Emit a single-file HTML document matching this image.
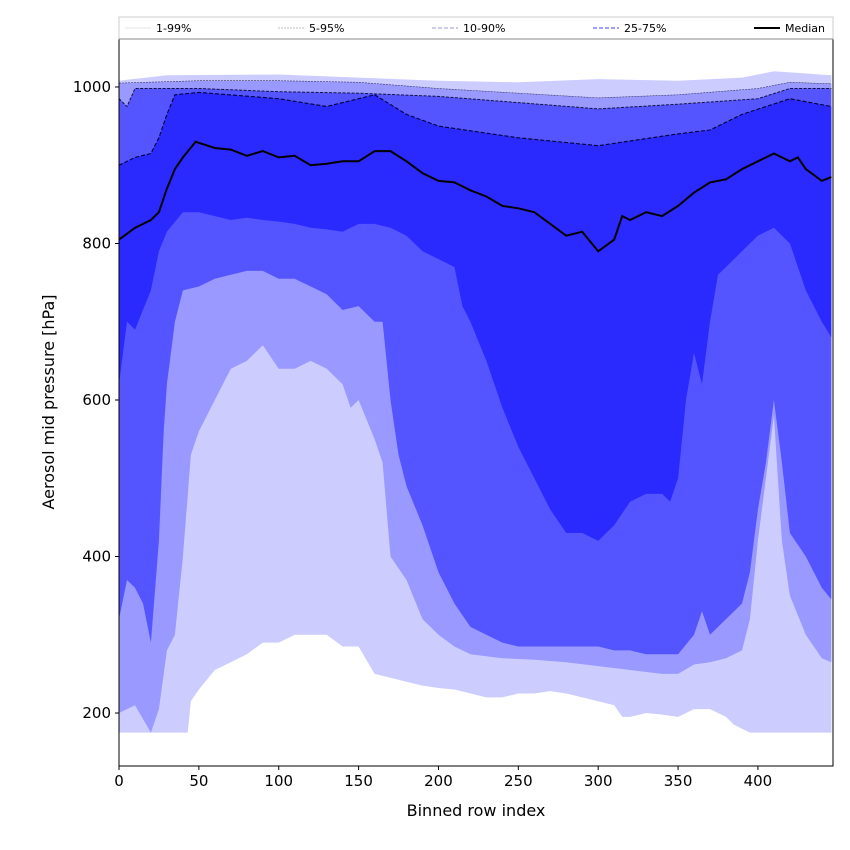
<!DOCTYPE html>
<html><head><meta charset="utf-8"><style>
body{margin:0;background:#fff}
svg{display:block;font-family:"DejaVu Sans","Liberation Sans",sans-serif}
</style></head><body>
<svg id="c" width="850" height="850" viewBox="0 0 850 850" xmlns="http://www.w3.org/2000/svg"></svg>
<script>
const xTicks=[0,50,100,150,200,250,300,350,400];
const yTicks=[200,400,600,800,1000];
const p99=[[0,1008],[30,1015],[100,1016],[150,1012],[200,1008],[250,1006],[300,1010],[350,1008],[390,1012],[410,1020],[446,1015]];
const p95=[[0,1005],[50,1008],[100,1008],[150,1006],[200,998],[250,992],[300,986],[350,990],[400,998],[420,1006],[446,1004]];
const p90=[[0,985],[5,975],[10,998],[50,998],[100,994],[150,992],[200,988],[250,980],[300,972],[350,978],[400,985],[420,998],[446,998]];
const p75=[[0,900],[10,910],[20,915],[25,935],[30,965],[35,990],[50,993],[100,985],[130,975],[160,990],[180,965],[200,950],[250,935],[300,925],[350,940],[370,945],[390,965],[420,985],[446,975]];
const median=[[0,805],[10,820],[20,830],[25,840],[30,870],[35,895],[40,910],[48,930],[60,922],[70,920],[80,912],[90,918],[100,910],[110,912],[120,900],[130,902],[140,905],[150,905],[160,918],[170,918],[180,905],[190,890],[200,880],[210,878],[220,868],[230,860],[240,848],[250,845],[260,840],[270,825],[280,810],[290,815],[300,790],[310,805],[315,835],[320,830],[330,840],[340,835],[350,848],[360,865],[370,878],[380,882],[390,895],[400,905],[410,915],[420,905],[425,910],[430,895],[440,880],[446,885]];
const p25=[[0,620],[5,700],[10,690],[20,740],[25,790],[30,815],[40,840],[50,840],[60,835],[70,830],[80,833],[90,830],[100,828],[110,825],[120,820],[130,818],[140,815],[150,825],[160,825],[170,820],[180,810],[190,790],[200,780],[210,770],[215,720],[220,700],[230,650],[240,590],[250,540],[260,500],[270,460],[280,430],[290,430],[300,420],[310,440],[320,470],[330,480],[340,480],[345,470],[350,500],[355,600],[360,660],[365,620],[370,700],[375,760],[380,770],[390,790],[400,810],[410,820],[420,800],[430,740],[440,700],[446,680]];
const p10=[[0,320],[5,370],[10,360],[15,340],[20,290],[25,420],[28,560],[30,620],[35,700],[40,740],[50,745],[60,755],[70,760],[80,765],[90,765],[100,755],[110,755],[120,745],[130,735],[140,715],[150,720],[160,700],[165,700],[170,600],[175,530],[180,490],[190,440],[200,380],[210,340],[220,310],[230,300],[240,290],[250,285],[300,285],[310,280],[320,280],[330,275],[350,275],[360,300],[365,330],[370,300],[380,320],[390,340],[395,380],[400,460],[405,520],[410,600],[415,520],[420,430],[430,400],[440,360],[446,345]];
const p5=[[0,200],[10,210],[20,175],[25,205],[30,280],[35,300],[40,400],[45,530],[50,560],[55,580],[60,600],[70,640],[80,650],[90,670],[100,640],[110,640],[120,650],[130,640],[140,620],[145,590],[150,600],[160,550],[165,520],[170,400],[180,370],[190,320],[200,300],[210,285],[220,275],[240,270],[260,268],[280,265],[300,260],[320,255],[340,250],[350,250],[360,262],[370,265],[380,270],[390,280],[395,320],[400,420],[405,500],[410,580],[415,420],[420,350],[430,300],[440,270],[446,265]];
const p1=[[0,175],[43,175],[45,215],[50,230],[60,255],[70,265],[80,275],[90,290],[100,290],[110,300],[130,300],[140,285],[150,285],[160,250],[170,245],[180,240],[190,235],[200,232],[210,230],[220,225],[230,220],[240,220],[250,225],[260,225],[270,228],[280,225],[290,220],[300,215],[310,210],[315,195],[320,195],[330,200],[340,198],[350,195],[360,205],[370,205],[380,195],[385,185],[390,180],[395,175],[446,175]];

const X0=119,X1=833,Y0=39,Y1=766,xmin=0,xmax=447,ymin=132.3,ymax=1061.3;
const sx=v=>X0+(v-xmin)/(xmax-xmin)*(X1-X0);
const sy=v=>Y1-(v-ymin)/(ymax-ymin)*(Y1-Y0);
const svg=document.getElementById('c');
const NS='http://www.w3.org/2000/svg';
function mk(tag,attrs,parent){const e=document.createElementNS(NS,tag);for(const k in attrs)e.setAttribute(k,attrs[k]);(parent||svg).appendChild(e);return e;}
const pts=a=>a.map(p=>sx(p[0]).toFixed(1)+','+sy(p[1]).toFixed(1));

const cp=mk('clipPath',{id:'clip'},mk('defs',{}));
mk('rect',{x:X0,y:Y0,width:X1-X0,height:Y1-Y0},cp);
const g=mk('g',{'clip-path':'url(#clip)'});


const bands=[[p99,p1,'#ccccff','band-1-99'],[p95,p5,'#9999ff','band-5-95'],[p90,p10,'#5555ff','band-10-90'],[p75,p25,'#2a2aff','band-25-75']];
bands.forEach(b=>{
 const poly=mk('polygon',{points:pts(b[0]).concat(pts(b[1].slice().reverse())).join(' '),fill:b[2]},g);
 
 
});
[[p95,'#333366',0.6,'2,1','line-p95'],[p90,'#111144',1,'3,1.5','line-p90'],[p75,'#000033',1.1,'4,2','line-p75']].forEach(l=>{
 const e=mk('polyline',{points:pts(l[0]).join(' '),fill:'none',stroke:l[1],'stroke-width':l[2],'stroke-dasharray':l[3]},g);
 
 
});
const ml=mk('polyline',{points:pts(median).join(' '),fill:'none',stroke:'#000','stroke-width':2},g);



const fr=mk('rect',{x:X0,y:Y0,width:X1-X0,height:Y1-Y0,fill:'none',stroke:'#000','stroke-width':1});


xTicks.forEach(t=>{
 mk('line',{x1:sx(t),x2:sx(t),y1:Y1,y2:Y1+4,stroke:'#000'});
 const tx=mk('text',{x:sx(t),y:Y1+20,'font-size':15,'text-anchor':'middle'});tx.textContent=t;
 
 
});
yTicks.forEach(t=>{
 mk('line',{x1:X0-4,x2:X0,y1:sy(t),y2:sy(t),stroke:'#000'});
 const tx=mk('text',{x:X0-8,y:sy(t)+5,'font-size':15,'text-anchor':'end'});tx.textContent=t;
 
 
});
const xl=mk('text',{x:(X0+X1)/2,y:816,'font-size':16,'text-anchor':'middle'});xl.textContent='Binned row index';


const yl=mk('text',{x:0,y:0,'font-size':16,'text-anchor':'middle',transform:'translate(54,402) rotate(-90)'});yl.textContent='Aerosol mid pressure [hPa]';



const lg=mk('g',{});


mk('rect',{x:119,y:17,width:714,height:22,fill:'#fff',stroke:'#ccc'},lg);
mk('line',{x1:119,x2:833,y1:39,y2:39,stroke:'#888'},lg);
const legItems=[['1-99%',125,'#dddddd',0.8,'none'],['5-95%',278,'#aaaaaa',0.8,'2,1'],['10-90%',432,'#9999cc',1,'4,2'],['25-75%',593,'#6666ff',1.2,'4,2'],['Median',754,'#000',2,'none']];
legItems.forEach(it=>{
 const e=mk('g',{},lg);
 
 
 mk('line',{x1:it[1],x2:it[1]+26,y1:28,y2:28,stroke:it[2],'stroke-width':it[3],'stroke-dasharray':it[4]},e);
 const t=mk('text',{x:it[1]+31,y:32,'font-size':11},e);t.textContent=it[0];
});
</script>
</body></html>
